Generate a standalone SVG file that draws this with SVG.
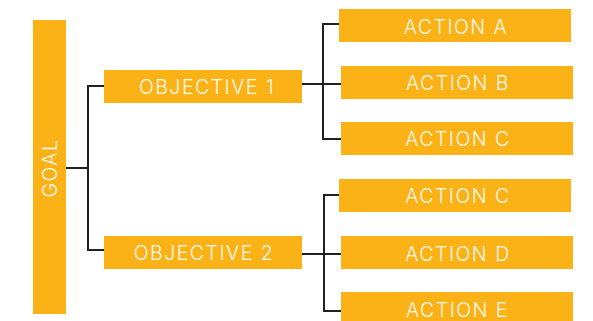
<svg xmlns="http://www.w3.org/2000/svg" width="593" height="321" viewBox="0 0 593 321">
<style>
.box{fill:#FBB216}
.lbl{font-family:Inter,"Liberation Sans",Arial,sans-serif;font-weight:300;font-size:19.5px;letter-spacing:1.5px;fill:#FFF9EE;text-anchor:middle}
.c{fill:none;stroke:#231F20;stroke-width:2}
</style>
<rect width="593" height="321" fill="#FFFFFF"/>
<g id="connectors">
<path class="c" d="M66 168H88M104 86H88V250H104"/>
<path class="c" d="M302 84H341M339 24H323V139H341"/>
<path class="c" d="M302 254H341M339 195H324V311H341"/>
</g>
<g id="goal"><rect class="box" x="33" y="20" width="33" height="294"/><text class="lbl" x="57" y="168" transform="rotate(-90 57 168)">GOAL</text></g>
<g id="objective1"><rect class="box" x="104" y="70" width="198" height="33"/><text class="lbl" x="207" y="94">OBJECTIVE 1</text></g>
<g id="objective2"><rect class="box" x="104" y="236" width="198" height="33"/><text class="lbl" x="204" y="260">OBJECTIVE 2</text></g>
<g id="actionA"><rect class="box" x="339" y="9" width="232" height="33"/><text class="lbl" x="456" y="34">ACTION A</text></g>
<g id="actionB"><rect class="box" x="341" y="66" width="232" height="33"/><text class="lbl" x="458" y="90">ACTION B</text></g>
<g id="actionC1"><rect class="box" x="341" y="122" width="232" height="33"/><text class="lbl" x="458" y="146">ACTION C</text></g>
<g id="actionC2"><rect class="box" x="339" y="179" width="232" height="33"/><text class="lbl" x="458" y="202.5">ACTION C</text></g>
<g id="actionD"><rect class="box" x="341" y="236" width="232" height="33"/><text class="lbl" x="458" y="260.5">ACTION D</text></g>
<g id="actionE"><rect class="box" x="341" y="292" width="232" height="33"/><text class="lbl" x="457.5" y="316.5">ACTION E</text></g>
</svg>
